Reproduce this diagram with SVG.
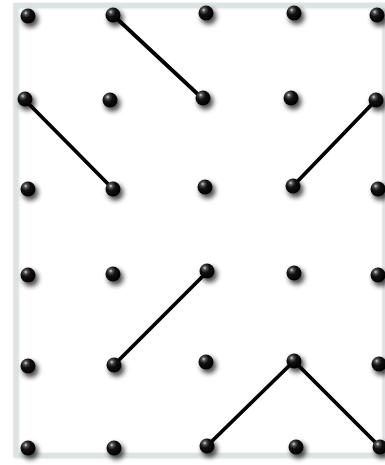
<svg xmlns="http://www.w3.org/2000/svg" width="385" height="465" viewBox="0 0 385 465">
<defs>
<radialGradient id="ball" cx="0.35" cy="0.3" r="0.7">
<stop offset="0" stop-color="#e0e0e0"/>
<stop offset="0.18" stop-color="#555"/>
<stop offset="0.45" stop-color="#111"/>
<stop offset="1" stop-color="#000"/>
</radialGradient>
<filter id="sh" x="-1" y="-1" width="3" height="3"><feGaussianBlur stdDeviation="2.8"/></filter>
<filter id="fr" x="-0.1" y="-0.1" width="1.2" height="1.2"><feGaussianBlur stdDeviation="1.5"/></filter>
<g id="dot">
<circle cx="2.5" cy="3.5" r="8" fill="#000" opacity="0.7" filter="url(#sh)"/>
<circle r="7.5" fill="url(#ball)"/>
</g>
</defs>
<style>
.c{stroke:#000;stroke-width:3.8;fill:none;stroke-linecap:round;stroke-linejoin:round}
</style>
<rect width="385" height="465" fill="#fff"/>
<g id="frame">
<rect x="16.5" y="6" width="369" height="450" fill="none" stroke="#b5bdbd" stroke-width="3.5" filter="url(#fr)" opacity="0.7"/>
<rect x="15.5" y="5" width="369" height="450" fill="none" stroke="#dde3e3" stroke-width="4.5"/>
</g>
<g id="connectors">
<path class="c" d="M113 15 L203 99"/>
<path class="c" d="M24 99 L113 189"/>
<path class="c" d="M376 100 L293 186"/>
<path class="c" d="M207 272 L114 365"/>
<path class="c" d="M207 446 L294 361 L380 447"/>
</g>
<g id="n00"><use href="#dot" x="28" y="16"/></g>
<g id="n01"><use href="#dot" x="113" y="15"/></g>
<g id="n02"><use href="#dot" x="206" y="13"/></g>
<g id="n03"><use href="#dot" x="294" y="13"/></g>
<g id="n04"><use href="#dot" x="377" y="15"/></g>
<g id="n10"><use href="#dot" x="25" y="99"/></g>
<g id="n11"><use href="#dot" x="110" y="100"/></g>
<g id="n12"><use href="#dot" x="203" y="98"/></g>
<g id="n13"><use href="#dot" x="291" y="98"/></g>
<g id="n14"><use href="#dot" x="376" y="100"/></g>
<g id="n20"><use href="#dot" x="28" y="189"/></g>
<g id="n21"><use href="#dot" x="113" y="189"/></g>
<g id="n22"><use href="#dot" x="205" y="187"/></g>
<g id="n23"><use href="#dot" x="293" y="186"/></g>
<g id="n24"><use href="#dot" x="378" y="189"/></g>
<g id="n30"><use href="#dot" x="28" y="275"/></g>
<g id="n31"><use href="#dot" x="113" y="274"/></g>
<g id="n32"><use href="#dot" x="207" y="271"/></g>
<g id="n33"><use href="#dot" x="294" y="273"/></g>
<g id="n34"><use href="#dot" x="378" y="275"/></g>
<g id="n40"><use href="#dot" x="28" y="366"/></g>
<g id="n41"><use href="#dot" x="114" y="365"/></g>
<g id="n42"><use href="#dot" x="206" y="362"/></g>
<g id="n43"><use href="#dot" x="294" y="361"/></g>
<g id="n44"><use href="#dot" x="379" y="364"/></g>
<g id="n50"><use href="#dot" x="28" y="448"/></g>
<g id="n51"><use href="#dot" x="114" y="448"/></g>
<g id="n52"><use href="#dot" x="207" y="446"/></g>
<g id="n53"><use href="#dot" x="296" y="447"/></g>
<g id="n54"><use href="#dot" x="380" y="447"/></g>
</svg>
